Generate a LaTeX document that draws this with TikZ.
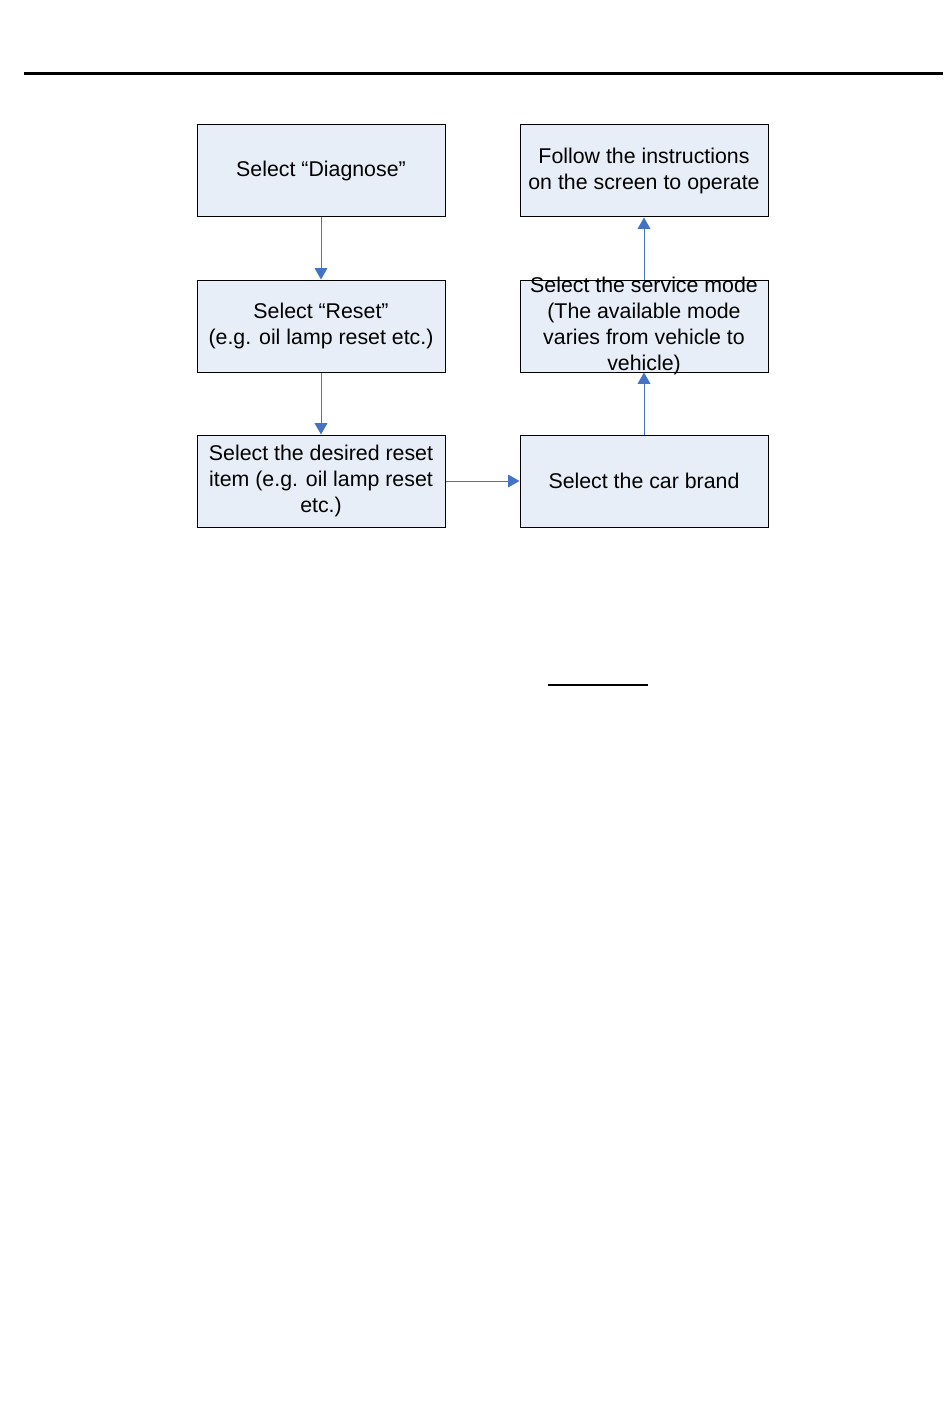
\documentclass[tikz,border=0pt]{standalone}
\usepackage{fontspec}
\setmainfont{Liberation Sans}
\usetikzlibrary{positioning,arrows.meta}
\definecolor{boxfill}{RGB}{232,238,247}
\definecolor{flowblue}{RGB}{68,114,196}

\begin{document}
\begin{tikzpicture}[x=0.75pt, y=-0.75pt,
    box/.style={draw, line width=0.75pt, fill=boxfill, minimum width=186pt,
        minimum height=69pt, inner sep=0pt},
    boxtext/.style={align=center, font=\fontsize{16}{19.5}\selectfont},
    flow/.style={flowblue, line width=0.75pt, -{Triangle[width=9.5pt,length=8.5pt]}},
    node distance=46.5pt and 55.5pt]
    \useasboundingbox (0,0) rectangle (950,1405);

    % Rules
    \draw[line width=2.25pt] (24,74) -- (943,74);
    \draw[line width=1.8pt] (548,685) -- (648,685);

    % Left column
    \node[box] (diag) at (321,171) {};
    \node[box, below=of diag] (reset) {};
    \node[box, below=of reset] (item) {};

    % Right column
    \node[box, right=of item] (brand) {};
    \node[box, above=of brand] (mode) {};
    \node[box, above=of mode] (follow) {};

    % Texts
    \node[boxtext] (tdiag) at (diag) {Select “Diagnose”};
    \node[boxtext] (treset) at (reset) {Select “Reset”\\(e.g. oil lamp reset etc.)};
    \node[boxtext] (titem) at (item) {Select the desired reset\\item (e.g. oil lamp reset\\etc.)};
    \node[boxtext] (tbrand) at (brand) {Select the car brand};
    \node[boxtext] (tmode) at (mode) {Select the service mode\\(The available mode\\varies from vehicle to\\vehicle)};
    \node[boxtext] (tfollow) at (follow) {Follow the instructions\\on the screen to operate};

    % Arrows
    \draw[flow] (diag) -- (reset);
    \draw[flow] (reset) -- (item);
    \draw[flow] (item) -- (brand);
    \draw[flow] (brand) -- (mode);
    \draw[flow] (mode) -- (follow);
\end{tikzpicture}
\end{document}
